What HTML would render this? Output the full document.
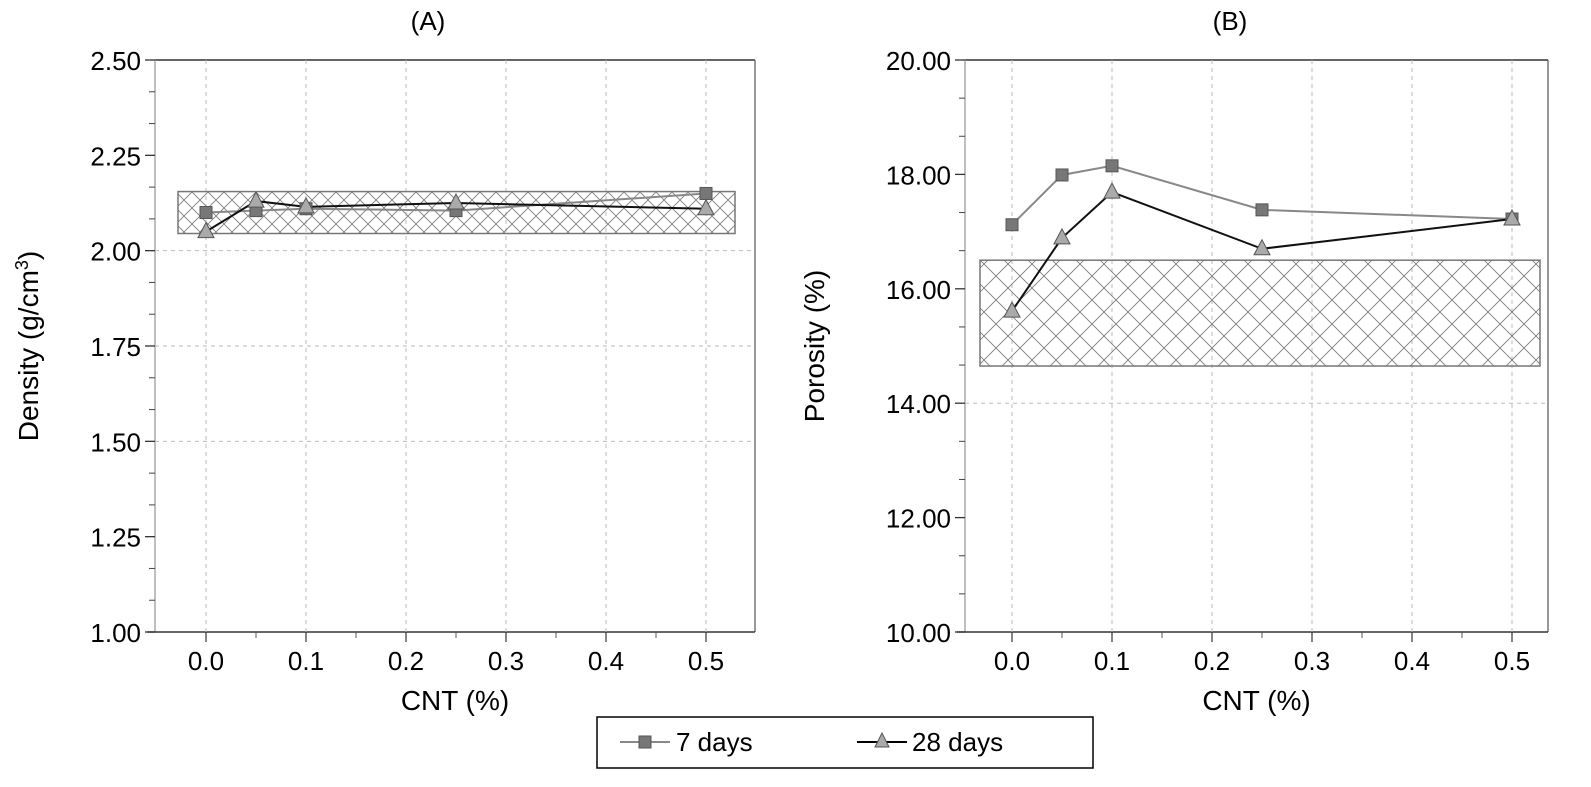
<!DOCTYPE html>
<html><head><meta charset="utf-8"><style>
html,body{margin:0;padding:0;background:#fff;}
svg{display:block;font-family:"Liberation Sans",Arial,sans-serif;}
</style></head><body>
<svg id="chart" width="1591" height="787" viewBox="0 0 1591 787">
<defs>
<pattern id="hatchA" width="16" height="16" patternUnits="userSpaceOnUse"><path d="M0,0L16,16M16,0L0,16" stroke="#777" stroke-width="0.8"/></pattern>
<pattern id="hatchB" width="24" height="24" patternUnits="userSpaceOnUse"><path d="M0,0L24,24M24,0L0,24" stroke="#777" stroke-width="0.8"/></pattern>
</defs>
<g id="layer"></g>
<g>
<rect x="597" y="717" width="496" height="51" fill="#fff" stroke="#000" stroke-width="1.5"/>
<line x1="620" y1="742" x2="670" y2="742" stroke="#888" stroke-width="2"/>
<rect x="639" y="736" width="12" height="12" fill="#777" stroke="#555"/>
<text x="676" y="751" font-size="26">7 days</text>
<line x1="857" y1="742" x2="907" y2="742" stroke="#000" stroke-width="2"/>
<polygon points="882,733 875,747 889,747" fill="#aaa" stroke="#555"/>
<text x="912" y="751" font-size="26">28 days</text>
</g>
</svg>
<script>
const categories=[0,0.05,0.1,0.25,0.5];
const densityDays7=[2.10,2.105,2.11,2.105,2.15];
const densityDays28=[2.05,2.13,2.115,2.125,2.11];
const porosityDays7=[17.12,17.99,18.15,17.38,17.22];
const porosityDays28=[15.61,16.89,17.69,16.70,17.22];
const xTicks=["0.0","0.1","0.2","0.3","0.4","0.5"];
const densityTicks=["1.00","1.25","1.50","1.75","2.00","2.25","2.50"];
const porosityTicks=["10.00","12.00","14.00","16.00","18.00","20.00"];
const densityBand=[2.045,2.155];
const porosityBand=[14.65,16.5];

const NS="http://www.w3.org/2000/svg";
const layer=document.getElementById('layer');
function mk(tag,attrs,parent){const e=document.createElementNS(NS,tag);for(const k in attrs)e.setAttribute(k,attrs[k]);(parent||layer).appendChild(e);return e;}

function panel(o){
  const g=mk('g',{});
  
  
  const X=v=>o.x0+(v-0)*(o.x5-o.x0)/0.5;
  const Y=v=>o.top+(o.ymax-v)*(o.bottom-o.top)/(o.ymax-o.ymin);
  mk('line',{x1:o.left,y1:o.top,x2:o.right,y2:o.top,stroke:'#333','stroke-width':1.5},g);
  mk('line',{x1:o.right,y1:o.top,x2:o.right,y2:o.bottom,stroke:'#555','stroke-width':1.2},g);
  mk('line',{x1:o.left,y1:o.top,x2:o.left,y2:o.bottom,stroke:'#aaa','stroke-width':1.5},g);
  mk('line',{x1:o.left-8,y1:o.bottom,x2:o.right,y2:o.bottom,stroke:'#333','stroke-width':1.5},g);
  xTicks.forEach((t,i)=>{
    const v=parseFloat(t),x=X(v);
    mk('line',{x1:x,y1:o.top,x2:x,y2:o.bottom,stroke:'#bbb','stroke-dasharray':'4,4','stroke-width':1},g);
    mk('line',{x1:x,y1:o.bottom,x2:x,y2:o.bottom+10,stroke:'#333','stroke-width':1.2},g);
    const mx=X(v+0.05);
    if(mx<o.right) mk('line',{x1:mx,y1:o.bottom,x2:mx,y2:o.bottom+6,stroke:'#555','stroke-width':1},g);
    const tx=mk('text',{x:x,y:o.bottom+38,'font-size':26,'text-anchor':'middle'},g);tx.textContent=t;
    
    
  });
  const n=o.ticks.length;
  o.ticks.forEach((t,i)=>{
    const v=parseFloat(t),y=Y(v);
    if(i>0&&i<n-1&&o.gridY.includes(t)) mk('line',{x1:o.left,y1:y,x2:o.right,y2:y,stroke:'#bbb','stroke-dasharray':'4,4','stroke-width':1},g);
    mk('line',{x1:o.left-10,y1:y,x2:o.left,y2:y,stroke:'#333','stroke-width':1.3},g);
    if(i<n-1){const step=(parseFloat(o.ticks[i+1])-v)/3;for(let k=1;k<3;k++){const yy=Y(v+step*k);mk('line',{x1:o.left-6,y1:yy,x2:o.left,y2:yy,stroke:'#444','stroke-width':1},g);}}
    const tx=mk('text',{x:o.left-14,y:y+10,'font-size':26,'text-anchor':'end'},g);tx.textContent=t;
    
    
  });
  const b=mk('rect',{x:o.bandX0,y:Y(o.band[1]),width:o.bandX1-o.bandX0,height:Y(o.band[0])-Y(o.band[1]),fill:'url(#'+o.hatch+')',stroke:'#777','stroke-width':1.5},g);
  
  
  const p7=categories.map((c,i)=>X(c)+','+Y(o.s7[i])).join(' ');
  const l7=mk('polyline',{points:p7,fill:'none',stroke:'#888','stroke-width':2},g);
  
  
  const p28=categories.map((c,i)=>X(c)+','+Y(o.s28[i])).join(' ');
  const l28=mk('polyline',{points:p28,fill:'none',stroke:'#111','stroke-width':2},g);
  
  
  categories.forEach((c,i)=>{
    const x=X(c),y=Y(o.s7[i]);
    const r=mk('rect',{x:x-6,y:y-6,width:12,height:12,fill:'#777',stroke:'#555'},g);
    
    
  });
  categories.forEach((c,i)=>{
    const x=X(c),y=Y(o.s28[i]);
    const t=mk('polygon',{points:`${x},${y-9} ${x-8},${y+6} ${x+8},${y+6}`,fill:'#aaa',stroke:'#555'},g);
    
    
  });
  const ti=mk('text',{x:o.titleX,y:30,'font-size':26,'text-anchor':'middle'},g);ti.textContent=o.title;
  
  
  const xt=mk('text',{x:(o.left+o.right)/2,y:710,'font-size':28,'text-anchor':'middle'},g);xt.textContent='CNT (%)';
  
  
  const yt=mk('text',{x:o.yTitleX,y:(o.top+o.bottom)/2,'font-size':28,'text-anchor':'middle',transform:`rotate(-90 ${o.yTitleX} ${(o.top+o.bottom)/2})`},g);
  yt.innerHTML=o.ytitle;
  
  
}
panel({name:'panel-a-density',left:155,right:755,top:60,bottom:632,x0:206,x5:706,ymin:1,ymax:2.5,ticks:densityTicks,gridY:["1.50","1.75","2.00"],s7:densityDays7,s28:densityDays28,band:densityBand,bandX0:178,bandX1:735,hatch:'hatchA',title:'(A)',titleX:428,yTitleX:38,ytitle:'Density (g/cm<tspan font-size="18" dy="-10">3</tspan><tspan dy="10">)</tspan>'});
panel({name:'panel-b-porosity',left:965,right:1548,top:60,bottom:632,x0:1012,x5:1512,ymin:10,ymax:20,ticks:porosityTicks,gridY:["14.00"],s7:porosityDays7,s28:porosityDays28,band:porosityBand,bandX0:980,bandX1:1540,hatch:'hatchB',title:'(B)',titleX:1230,yTitleX:824,ytitle:'Porosity (%)'});
</script>
</body></html>
